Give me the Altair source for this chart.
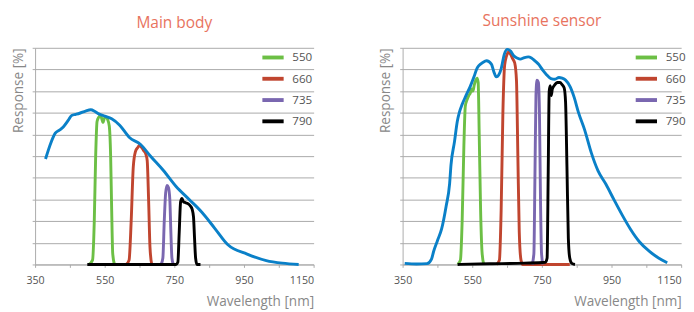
import altair as alt
import pandas as pd

FILTERS = ["550", "660", "735", "790"]
FILTER_COLORS = ["#6cbf45", "#c0452f", "#7a67b0", "#000000"]
BLUE = "#0a80c8"
X_TICKS = [350, 450, 550, 650, 750, 850, 950, 1050, 1150]

# ---- Main body ----
mb_blue_x = [380, 395, 408, 420, 431, 445, 455, 467, 478, 495, 510, 522, 533, 550, 570, 593, 621, 653, 681, 718, 755, 792, 829, 866, 903, 959, 1014, 1060, 1107]
mb_blue_y = [48.7, 56, 60.6, 62, 63.5, 66.5, 68.8, 69.3, 69.8, 70.8, 71.4, 70.6, 69.5, 68.5, 67.3, 64.3, 58.6, 55.4, 50.1, 43.5, 36.0, 30.1, 24.1, 16.7, 9.2, 4.8, 1.8, 0.6, 0]

mb_550_x = [505, 515, 520, 524, 528, 533, 538, 542, 545, 549, 553, 558, 563, 567, 570, 573, 578]
mb_550_y = [0, 2, 20, 50, 66, 68, 69, 67, 65.5, 67.5, 68, 67, 64, 50, 25, 5, 0]
mb_660_x = [612, 620, 626, 632, 638, 645, 650, 656, 662, 668, 672, 676, 680, 685]
mb_660_y = [0, 2, 20, 45, 52, 54, 55, 54, 52.5, 51, 48, 30, 8, 0]
mb_735_x = [712, 717, 721, 725, 729, 733, 737, 740, 743, 747]
mb_735_y = [0, 3, 20, 33, 36.5, 35.5, 30, 15, 3, 0]
mb_790_x = [500, 755, 760, 764, 768, 772, 776, 782, 790, 796, 801, 805, 808, 811, 815, 825]
mb_790_y = [0, 0, 1, 15, 29, 30.5, 29, 28.5, 28, 27, 25.5, 22, 12, 3, 0, 0]

# ---- Sunshine sensor ----
ss_blue_x = [356, 390, 420, 433, 439, 450, 462, 475, 485, 489, 499, 507, 513, 521, 531, 544, 555, 563, 569, 580, 591, 605, 612, 619, 626, 633, 642, 651, 660, 669, 679, 688, 700, 711, 720, 730, 740, 753, 764, 776, 787, 799, 808, 818, 831, 843, 855, 873, 892, 911, 934, 957, 980, 1004, 1030, 1059, 1085, 1110]
ss_blue_y = [0.5, 0.2, 0.4, 2.5, 6, 11, 16.4, 26.9, 37.3, 46, 56.7, 66, 70.2, 73.9, 77.6, 82.1, 86.6, 90.3, 91.8, 93.2, 94, 92.5, 89, 86.6, 87.5, 90.3, 97, 99.3, 98.5, 96.3, 95.3, 94.8, 95.5, 95.8, 95.3, 94, 92.5, 89.6, 87.5, 85.8, 85.5, 86.3, 86, 85.1, 82.1, 77, 70.2, 62, 51.5, 43.3, 37, 29.9, 23, 16.4, 10.5, 6, 3, 0.8]

ss_550_x = [508, 516, 521, 526, 530, 535, 540, 544, 548, 552, 556, 560, 564, 567, 570, 574, 578, 583]
ss_550_y = [0, 2, 20, 55, 73, 76, 78, 79, 81, 80, 83, 85, 86, 84, 60, 25, 6, 0]
ss_660_x = [620, 628, 633, 638, 643, 648, 654, 660, 666, 672, 677, 681, 685, 690, 695, 830]
ss_660_y = [0, 2, 25, 70, 92, 96, 98, 97, 95, 93, 85, 50, 15, 2, 0, 0]
ss_735_x = [722, 727, 730, 733, 736, 740, 743, 746, 749, 753]
ss_735_y = [0, 5, 40, 78, 85, 84, 70, 30, 5, 0]
ss_790_x = [508, 600, 700, 760, 765, 768, 771, 774, 777, 780, 785, 795, 802, 808, 814, 818, 822, 826, 830, 836, 845]
ss_790_y = [0, 0.3, 0.6, 1, 3, 40, 80, 82.5, 78, 81, 82.5, 84, 84, 83, 81.5, 75, 45, 12, 3, 0.5, 0]


def filters_df(series):
    rows = []
    for name, xs, ys in series:
        for i, (x, y) in enumerate(zip(xs, ys)):
            rows.append({"filter": name, "wl": x, "resp": y, "i": i})
    return pd.DataFrame(rows)


def panel(title, blue_x, blue_y, series, legend_x):
    fdf = filters_df(series)
    bdf = pd.DataFrame({"wl": blue_x, "resp": blue_y})
    x = alt.X(
        "wl:Q",
        scale=alt.Scale(domain=[350, 1150], nice=False, zero=False),
        axis=alt.Axis(
            values=X_TICKS,
            format="d",
            labelExpr="(datum.value - 350) % 200 == 0 ? datum.label : ''",
            labelAlign={"condition": {"test": "datum.value == 1150", "value": "right"}, "value": "center"},
            grid=False,
            tickSize=3,
            tickColor="#aaaaaa",
            domainColor="#aaaaaa",
            labelColor="#555555",
            labelFontSize=11,
            labelPadding=8,
            title="Wavelength [nm]",
            titleAnchor="end",
            titleColor="#888888",
            titleFontSize=14,
            titleFontWeight="normal",
            titlePadding=9,
        ),
    )
    y = alt.Y(
        "resp:Q",
        scale=alt.Scale(domain=[0, 100], nice=False),
        axis=alt.Axis(
            values=list(range(0, 101, 10)),
            labels=False,
            grid=True,
            gridColor="#a8a8a8",
            gridWidth=1,
            tickSize=3,
            tickColor="#aaaaaa",
            domainColor="#aaaaaa",
            title="Response [%]",
            titleAnchor="end",
            titleColor="#888888",
            titleFontSize=14,
            titleFontWeight="normal",
            titlePadding=7,
        ),
    )
    filt = alt.Chart(fdf).mark_line(strokeWidth=3, interpolate="monotone").encode(
        x=x,
        y=y,
        order="i:Q",
        color=alt.Color(
            "filter:N",
            scale=alt.Scale(domain=FILTERS, range=FILTER_COLORS),
            legend=alt.Legend(
                orient="none",
                legendX=legend_x,
                legendY=-3,
                title=None,
                symbolType="stroke",
                symbolStrokeWidth=4,
                symbolSize=484,
                labelFontSize=12,
                labelColor="#555555",
                labelOffset=7,
                rowPadding=1,
            ),
        ),
    )
    blue = alt.Chart(bdf).mark_line(strokeWidth=3, interpolate="monotone", color=BLUE).encode(x=x, y=y)
    return (filt + blue).properties(
        width=288,
        height=224,
        title=alt.TitleParams(title, color="#e8735e", fontSize=16, fontWeight="normal", offset=15),
    )


left = panel(
    "Main body", mb_blue_x, mb_blue_y,
    [("550", mb_550_x, mb_550_y), ("660", mb_660_x, mb_660_y),
     ("735", mb_735_x, mb_735_y), ("790", mb_790_x, mb_790_y)],
    233,
)
right = panel(
    "Sunshine sensor", ss_blue_x, ss_blue_y,
    [("550", ss_550_x, ss_550_y), ("660", ss_660_x, ss_660_y),
     ("735", ss_735_x, ss_735_y), ("790", ss_790_x, ss_790_y)],
    239,
)

chart = (
    alt.hconcat(left, right, spacing=66)
    .resolve_scale(color="independent")
    .properties(padding={"left": 3, "top": 0, "right": 0, "bottom": 0})
    .configure(font="Open Sans")
    .configure_view(stroke=None)
)

chart.save("out.html", embed_options={"renderer": "svg", "actions": False})
